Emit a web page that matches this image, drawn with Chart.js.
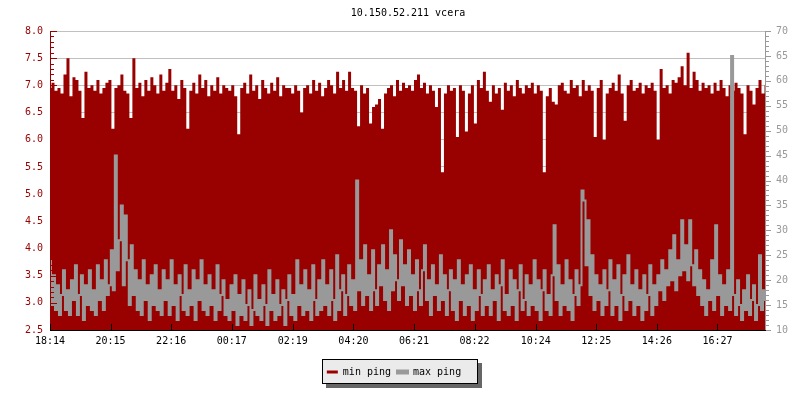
<!DOCTYPE html>
<html>
<head>
<meta charset="utf-8">
<script src="https://cdn.jsdelivr.net/npm/chart.js@4.4.1/dist/chart.umd.min.js"></script>
<style>
  html, body { margin: 0; padding: 0; background: #fff; }
</style>
</head>
<body>
<canvas id="chart" width="800" height="400"></canvas>
<script>
// time axis labels (first one is the start of the 24h window)
const tickLabels = ['18:14', '20:15', '22:16', '00:17', '02:19', '04:20', '06:21', '08:22', '10:24', '12:25', '14:26', '16:27'];
const spanMinutes = 1430;

// min ping, left axis (ms)
const minPing = [
  6.95, 7.05, 6.9, 6.95, 6.85, 7.2, 7.5, 6.8, 7.15, 7.1, 6.9, 6.4, 7.25, 6.95, 7.0, 6.9, 7.1, 6.85, 6.95, 7.05,
  7.1, 6.2, 6.95, 7.0, 7.2, 6.9, 6.85, 6.4, 7.5, 6.95, 7.05, 6.8, 7.1, 6.9, 7.15, 7.0, 6.85, 7.2, 6.9, 7.05,
  7.3, 6.9, 7.0, 6.75, 7.1, 6.95, 6.2, 6.9, 7.05, 6.85, 7.2, 6.95, 7.1, 6.8, 7.0, 6.9, 7.15, 6.85, 7.0, 6.95,
  6.9, 7.0, 6.8, 6.1, 6.95, 7.05, 6.85, 7.2, 6.9, 7.0, 6.75, 7.1, 6.95, 6.85, 7.05, 6.9, 7.15, 6.8, 7.0, 6.95,
  6.95, 6.85, 7.0, 6.9, 6.5, 6.95, 7.0, 6.85, 7.1, 6.9, 7.05, 6.8, 6.95, 7.1, 7.0, 6.85, 7.25, 6.95, 7.1, 6.9,
  7.25, 6.95, 6.9, 6.25, 7.0, 6.85, 6.95, 6.3, 6.6, 6.65, 6.75, 6.2, 6.85, 6.95, 7.0, 6.8, 7.1, 6.9, 7.05, 6.95,
  7.0, 6.9, 7.1, 7.2, 6.95, 7.05, 6.85, 7.0, 6.9, 6.6, 6.95, 5.4, 6.85, 7.0, 6.9, 6.95, 6.05, 7.0, 6.9, 6.15,
  6.85, 7.0, 6.3, 7.1, 6.95, 7.25, 6.9, 6.7, 7.0, 6.85, 6.95, 6.55, 7.05, 6.9, 7.0, 6.8, 7.1, 6.95, 6.85, 7.0,
  6.95, 7.05, 6.85, 7.0, 6.9, 5.4, 6.8, 6.95, 6.7, 6.65, 7.0, 7.05, 6.9, 6.85, 7.1, 6.95, 7.0, 6.8, 7.1, 6.9,
  7.0, 6.9, 6.05, 6.95, 7.1, 6.0, 6.85, 6.95, 7.05, 6.9, 7.2, 6.85, 6.35, 7.0, 7.1, 6.9, 6.95, 7.05, 6.85, 7.0,
  6.95, 7.05, 6.9, 6.0, 7.3, 6.95, 7.0, 6.85, 7.1, 7.05, 7.15, 7.35, 7.0, 7.6, 6.95, 7.25, 7.1, 6.9, 7.05, 6.95,
  7.0, 6.85, 7.05, 6.9, 7.1, 6.95, 6.8, 7.0, 6.9, 7.05, 6.95, 6.85, 6.1, 7.0, 6.9, 6.65, 6.95, 7.1, 6.85, 7.0
];

// max ping, right axis (ms)
const maxPing = [
  24, 15, 21, 14, 19, 13, 17, 22, 14, 18, 13, 20, 16, 23, 13, 17, 21, 12, 19, 15,
  22, 14, 18, 13, 23, 16, 20, 14, 24, 17, 19, 26, 18, 45, 22, 28, 35, 19, 33, 24,
  15, 27, 17, 22, 14, 20, 13, 24, 16, 19, 12, 21, 15, 23, 14, 18, 13, 22, 16, 20,
  13, 24, 15, 19, 12, 21, 17, 14, 23, 13, 18, 15, 22, 12, 20, 16, 24, 14, 19, 13,
  21, 15, 18, 12, 23, 14, 17, 20, 13, 16, 12, 19, 14, 21, 11, 17, 13, 20, 12, 15,
  18, 11, 14, 21, 13, 16, 12, 19, 15, 11, 22, 14, 17, 12, 20, 13, 15, 18, 11, 16,
  21, 13, 17, 12, 24, 15, 19, 13, 22, 14, 18, 12, 23, 16, 13, 20, 14, 24, 15, 19,
  13, 22, 16, 12, 25, 14, 18, 21, 13, 17, 23, 15, 20, 14, 40, 18, 24, 15, 27, 17,
  21, 14, 26, 18, 15, 23, 19, 27, 16, 22, 14, 30, 18, 25, 20, 16, 28, 19, 23, 15,
  26, 17, 21, 14, 24, 18, 15, 22, 27, 16, 20, 13, 23, 17, 19, 14, 25, 16, 21, 13,
  18, 22, 14, 20, 12, 24, 16, 19, 13, 21, 15, 23, 12, 18, 14, 22, 17, 13, 20, 15,
  23, 13, 18, 16, 21, 12, 19, 24, 14, 17, 13, 22, 15, 20, 12, 18, 23, 14, 16, 21,
  13, 19, 15, 24, 14, 20, 12, 18, 22, 14, 17, 13, 21, 31, 16, 23, 13, 19, 15, 24,
  14, 20, 12, 17, 22, 15, 19, 38, 36, 23, 32, 17, 25, 14, 21, 16, 19, 13, 22, 15,
  18, 24, 13, 20, 15, 23, 12, 17, 21, 14, 25, 16, 19, 13, 22, 15, 18, 12, 21, 14,
  17, 23, 13, 19, 15, 21, 18, 24, 16, 22, 19, 26, 20, 29, 18, 24, 21, 32, 22, 27,
  20, 32, 23, 19, 26, 17, 22, 15, 20, 13, 18, 16, 24, 14, 31, 17, 21, 13, 19, 15,
  22, 14, 65, 17, 13, 20, 15, 12, 18, 14, 21, 13, 16, 19, 12, 15, 25, 14, 18, 16
];

const FONT = 'DejaVu Sans Mono';
const RED = '#990000';
const GRAY = '#999999';

// minutes since the first label
const toMin = s => {
  const [h, m] = s.split(':').map(Number);
  const [h0, m0] = tickLabels[0].split(':').map(Number);
  return ((h * 60 + m) - (h0 * 60 + m0) + 1440) % 1440;
};
const tickMinutes = tickLabels.map(toMin);
const sampleTimes = arr => arr.map((_, i) => i * spanMinutes / (arr.length - 1));
const minTimes = sampleTimes(minPing);
const maxTimes = sampleTimes(maxPing);

// axis lines with inner/outer tick marks
const axisPlugin = {
  id: 'axisTicks',
  afterDatasetsDraw(chart) {
    const {ctx, chartArea: a, scales: {x, y, y1}} = chart;
    ctx.save();
    ctx.lineWidth = 1;

    ctx.strokeStyle = RED;
    ctx.beginPath();
    ctx.moveTo(a.left + 0.5, a.top);
    ctx.lineTo(a.left + 0.5, a.bottom + 1);
    for (let v = 25; v <= 80; v++) {
      const py = Math.round(y.getPixelForValue(v / 10)) + 0.5;
      ctx.moveTo(a.left, py);
      ctx.lineTo(a.left + (v % 5 === 0 ? 7 : 4), py);
    }
    ctx.stroke();

    ctx.strokeStyle = GRAY;
    ctx.beginPath();
    ctx.moveTo(a.right - 0.5, a.top);
    ctx.lineTo(a.right - 0.5, a.bottom + 1);
    for (let v = 10; v <= 70; v++) {
      const py = Math.round(y1.getPixelForValue(v)) + 0.5;
      ctx.moveTo(a.right, py);
      ctx.lineTo(a.right + (v % 5 === 0 ? 5 : 3), py);
    }
    ctx.stroke();

    ctx.strokeStyle = '#000';
    ctx.beginPath();
    ctx.moveTo(a.left, a.bottom + 0.5);
    ctx.lineTo(a.right, a.bottom + 0.5);
    tickMinutes.forEach(m => {
      const px = Math.round(x.getPixelForValue(m)) + 0.5;
      ctx.moveTo(px, a.bottom);
      ctx.lineTo(px, a.bottom - 6);
    });
    ctx.stroke();
    ctx.restore();
  }
};

// grey box with drop shadow behind the legend
const legendBox = {
  id: 'legendBox',
  afterLayout(chart) {
    // legend row sits a little left of centre in the original
    chart.legend.left -= 6;
    chart.legend.right -= 6;
  },
  beforeDraw(chart) {
    const hb = chart.legend && chart.legend.legendHitBoxes;
    if (!hb || !hb.length) return;
    const {ctx} = chart;
    const l = Math.min(...hb.map(h => h.left)) - 5;
    const r = Math.max(...hb.map(h => h.left + h.width)) + 17;
    const cy = hb[0].top + hb[0].height / 2;
    const t = Math.round(cy - 13), h = 25, w = Math.round(r - l);
    const L = Math.round(l);
    ctx.save();
    ctx.fillStyle = '#666';
    ctx.fillRect(L + 4, t + 4, w, h);
    ctx.fillStyle = '#ebebeb';
    ctx.fillRect(L, t, w, h);
    ctx.strokeStyle = '#000';
    ctx.lineWidth = 1;
    ctx.strokeRect(L + 0.5, t + 0.5, w - 1, h - 1);
    ctx.restore();
  }
};

new Chart(document.getElementById('chart'), {
  type: 'line',
  data: {
    datasets: [{
      label: 'min ping',
      data: minTimes.map((t, i) => ({x: t, y: minPing[i]})),
      yAxisID: 'y',
      stepped: 'middle',
      fill: 'start',
      backgroundColor: RED,
      borderColor: RED,
      borderWidth: 0,
      pointRadius: 0,
      order: 2
    }, {
      label: 'max ping',
      data: maxTimes.map((t, i) => ({x: t, y: maxPing[i]})),
      yAxisID: 'y1',
      stepped: 'middle',
      fill: false,
      backgroundColor: GRAY,
      borderColor: GRAY,
      borderWidth: 2,
      pointRadius: 0,
      order: 1
    }]
  },
  options: {
    responsive: false,
    animation: false,
    layout: {padding: {bottom: 13}},
    plugins: {
      title: {
        display: true,
        fullSize: false,
        text: '10.150.52.211 vcera',
        color: '#000',
        font: {family: FONT, size: 10, weight: 'normal'},
        padding: {top: 7, bottom: 12}
      },
      legend: {
        position: 'bottom',
        labels: {
          color: '#000',
          font: {family: FONT, size: 10},
          boxWidth: 11,
          boxHeight: 3,
          padding: 6,
          sort: (a, b) => a.datasetIndex - b.datasetIndex
        }
      },
      tooltip: {enabled: false}
    },
    scales: {
      x: {
        type: 'linear',
        min: 0,
        max: spanMinutes,
        afterBuildTicks: s => { s.ticks = tickMinutes.map(v => ({value: v})); },
        afterFit: s => { s.height = 31; },
        grid: {display: false, drawTicks: false},
        border: {display: false},
        ticks: {
          autoSkip: false,
          maxRotation: 0,
          padding: 5,
          color: '#000',
          font: {family: FONT, size: 10},
          callback: v => tickLabels[tickMinutes.indexOf(v)]
        }
      },
      y: {
        position: 'left',
        min: 2.5,
        max: 8.0,
        afterFit: s => { s.width = 50; },
        grid: {color: '#c0c0c0', drawTicks: false},
        border: {display: false},
        ticks: {
          stepSize: 0.5,
          padding: 7,
          color: RED,
          font: {family: FONT, size: 10},
          callback: v => v.toFixed(1)
        }
      },
      y1: {
        position: 'right',
        min: 10,
        max: 70,
        afterFit: s => { s.width = 34; },
        grid: {drawOnChartArea: false, drawTicks: false},
        border: {display: false},
        ticks: {
          stepSize: 5,
          padding: 10,
          color: GRAY,
          font: {family: FONT, size: 10}
        }
      }
    }
  },
  plugins: [legendBox, axisPlugin]
});
</script>
</body>
</html>
